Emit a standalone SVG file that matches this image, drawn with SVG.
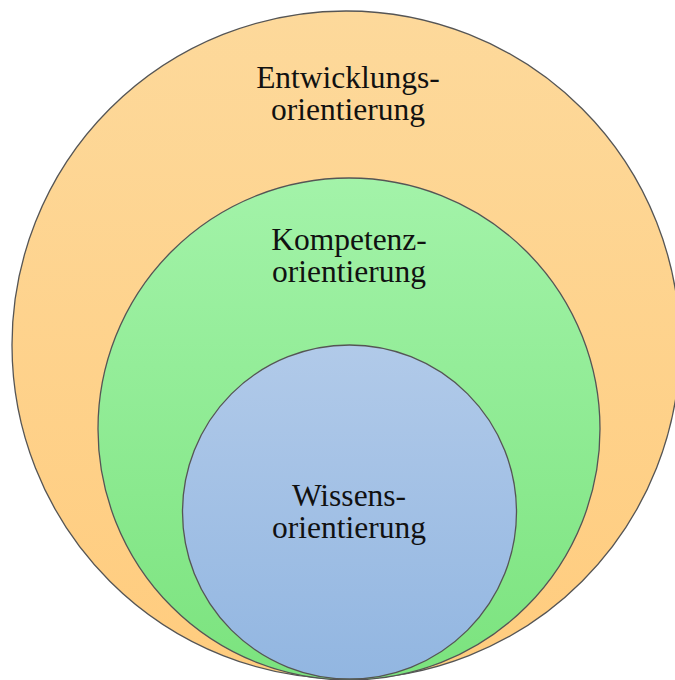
<svg xmlns="http://www.w3.org/2000/svg" width="675" height="680" viewBox="0 0 675 680">
<defs>
<linearGradient id="gO" x1="0" y1="0" x2="0" y2="1"><stop offset="0" stop-color="#FDD99B"/><stop offset="1" stop-color="#FFCC7E"/></linearGradient>
<linearGradient id="gG" x1="0" y1="0" x2="0" y2="1"><stop offset="0" stop-color="#A3F3A9"/><stop offset="1" stop-color="#7BE37E"/></linearGradient>
<linearGradient id="gB" x1="0" y1="0" x2="0" y2="1"><stop offset="0" stop-color="#B1CAE9"/><stop offset="1" stop-color="#92B6E1"/></linearGradient>
<style>
.c{stroke:#555;stroke-width:1.3}
.t{font-family:"Liberation Serif","Times New Roman",serif;font-size:31.5px;fill:#111;text-anchor:middle}
</style>
</defs>
<rect width="675" height="680" fill="#fff"/>
<g id="outer">
<circle class="c" cx="346" cy="345" r="334" fill="url(#gO)"/>
<text class="t"><tspan x="348" y="88">Entwicklungs-</tspan><tspan x="348" y="120">orientierung</tspan></text>
</g>
<g id="middle">
<circle class="c" cx="349" cy="429" r="251" fill="url(#gG)"/>
<text class="t"><tspan x="349" y="250">Kompetenz-</tspan><tspan x="349" y="282">orientierung</tspan></text>
</g>
<g id="inner">
<circle class="c" cx="349.5" cy="512" r="167" fill="url(#gB)"/>
<text class="t"><tspan x="349" y="506">Wissens-</tspan><tspan x="349" y="538">orientierung</tspan></text>
</g>
<g id="connectors"/>
</svg>
